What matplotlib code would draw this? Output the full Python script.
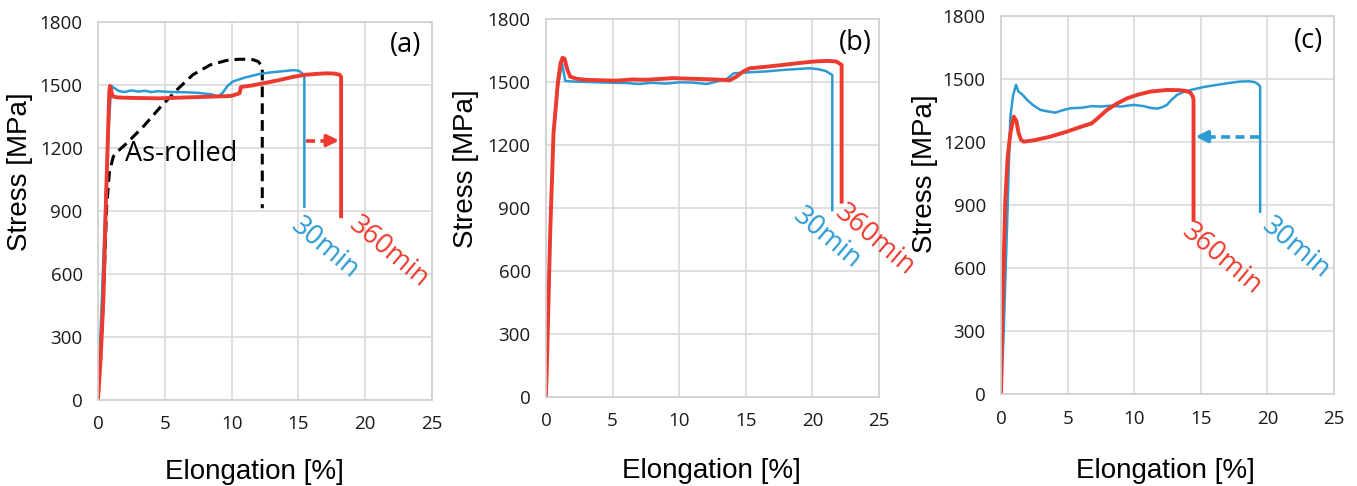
import matplotlib
matplotlib.use('Agg')
import matplotlib.pyplot as plt

RED = '#EC3A2E'
BLUE = '#2B9AD5'

# panel (a)
a_blue_x = [0, 0.3, 0.6, 0.85, 1.0, 1.2, 1.6, 2.0, 2.5, 3.0, 3.5, 4.0, 4.5, 5.5, 6.5, 7.5, 8.5, 9.0, 9.3, 9.7, 10.1, 11.0, 12.1, 13.0, 14.0, 14.6, 15.0, 15.3, 15.45, 15.45]
a_blue_y = [0, 500, 1000, 1350, 1495, 1485, 1470, 1466, 1474, 1468, 1472, 1466, 1470, 1466, 1465, 1462, 1455, 1446, 1460, 1495, 1516, 1535, 1552, 1560, 1566, 1570, 1568, 1555, 1540, 920]
a_red_x = [0, 0.2, 0.4, 0.6, 0.75, 0.85, 0.9, 1.1, 1.5, 2.5, 3.5, 4.5, 5.5, 6.5, 7.5, 8.5, 9.5, 10.0, 10.6, 10.7, 11.5, 12.4, 13.5, 14.6, 15.5, 16.5, 17.1, 17.7, 18.1, 18.2, 18.2]
a_red_y = [0, 200, 476, 952, 1270, 1470, 1495, 1445, 1440, 1438, 1437, 1436, 1438, 1440, 1442, 1444, 1446, 1448, 1460, 1490, 1497, 1508, 1522, 1538, 1548, 1553, 1555, 1554, 1548, 1538, 875]
a_rolled_x = [0, 0.2, 0.4, 0.65, 0.85, 1.02, 1.15, 1.5, 2.15, 3.4, 4.6, 5.9, 7.1, 8.4, 9.6, 10.5, 11.1, 11.6, 12.0, 12.3, 12.3]
a_rolled_y = [0, 200, 476, 920, 1080, 1127, 1159, 1185, 1222, 1302, 1389, 1476, 1548, 1595, 1616, 1622, 1622, 1620, 1611, 1587, 913]

# panel (b)
b_blue_x = [0, 0.07, 0.32, 0.57, 0.9, 1.1, 1.2, 1.3, 1.45, 2.0, 3.0, 4.0, 5.0, 6.0, 7.0, 8.0, 9.0, 10.0, 11.0, 12.1, 13.0, 13.6, 14.1, 15.3, 16.5, 17.8, 19.0, 19.8, 20.5, 21.0, 21.5, 21.5]
b_blue_y = [0, 144, 780, 1256, 1480, 1550, 1590, 1560, 1505, 1502, 1500, 1498, 1496, 1495, 1490, 1496, 1492, 1498, 1497, 1490, 1505, 1515, 1541, 1546, 1550, 1557, 1562, 1565, 1560, 1552, 1533, 890]
b_red_x = [0, 0.07, 0.32, 0.57, 0.9, 1.1, 1.25, 1.4, 1.6, 1.82, 2.3, 3.0, 4.0, 5.3, 6.5, 7.5, 8.5, 9.5, 10.5, 11.5, 12.5, 13.3, 13.8, 14.3, 14.8, 15.3, 16.5, 17.8, 19.0, 20.3, 21.2, 21.8, 22.2, 22.2]
b_red_y = [0, 144, 780, 1256, 1500, 1590, 1615, 1610, 1560, 1525, 1515, 1510, 1508, 1506, 1512, 1510, 1514, 1518, 1516, 1514, 1512, 1510, 1508, 1525, 1549, 1565, 1572, 1581, 1590, 1598, 1600, 1597, 1581, 930]

# panel (c)
c_blue_x = [0, 0.2, 0.45, 0.7, 0.9, 1.12, 1.3, 1.6, 1.95, 2.4, 2.95, 3.5, 4.07, 4.6, 5.2, 6.0, 6.8, 7.45, 8.2, 9.0, 9.95, 10.7, 11.2, 11.7, 12.1, 12.45, 12.8, 13.2, 13.8, 14.45, 15.3, 16.2, 17.1, 17.95, 18.6, 19.0, 19.3, 19.45, 19.45]
c_blue_y = [0, 300, 800, 1320, 1420, 1471, 1440, 1425, 1400, 1375, 1352, 1345, 1339, 1350, 1360, 1362, 1370, 1368, 1372, 1368, 1376, 1370, 1362, 1358, 1365, 1376, 1400, 1423, 1440, 1450, 1462, 1471, 1480, 1487, 1488, 1485, 1475, 1463, 868]
c_red_x = [0, 0.1, 0.32, 0.5, 0.7, 0.95, 1.15, 1.32, 1.5, 1.7, 2.5, 3.7, 4.95, 6.0, 6.8, 7.3, 7.95, 8.7, 9.45, 10.3, 11.2, 12.45, 13.3, 13.8, 14.2, 14.4, 14.45, 14.45]
c_red_y = [0, 400, 924, 1130, 1241, 1320, 1300, 1241, 1210, 1201, 1208, 1225, 1249, 1272, 1288, 1315, 1352, 1382, 1407, 1425, 1439, 1447, 1446, 1443, 1435, 1415, 1400, 829]

x_ticks = [0, 5, 10, 15, 20, 25]
y_ticks = [0, 300, 600, 900, 1200, 1500, 1800]

# arrows: (start x, end x, y)
a_arrow = (15.6, 18.05, 1235)
c_arrow = (19.4, 14.6, 1225)

fig = plt.figure(figsize=(13.57, 4.86), dpi=100)
rects = [[0.0722, 0.177, 0.2461, 0.778],
         [0.4023, 0.1831, 0.2454, 0.778],
         [0.7377, 0.1887, 0.2454, 0.779]]
ylab_pos = [(-0.195, 0.604), (-0.20, 0.605), (-0.188, 0.584)]
xlab_pos = [(0.47, -0.155), (0.498, -0.162), (0.493, -0.168)]
axes = []
for r, yl, xl in zip(rects, ylab_pos, xlab_pos):
    ax = fig.add_axes(r)
    ax.set_xlim(0, 25)
    ax.set_ylim(0, 1800)
    ax.set_xticks(x_ticks)
    ax.set_yticks(y_ticks)
    ax.grid(True, color='#d9d9d9', lw=1.2)
    ax.set_axisbelow(True)
    for s in ax.spines.values():
        s.set_color('#d0d0d0')
        s.set_linewidth(1.2)
    ax.tick_params(length=0, pad=11, labelsize=13.5, labelcolor='#1a1a1a')
    for lab in ax.get_xticklabels() + ax.get_yticklabels():
        lab.set_fontfamily('Open Sans')
    ax.set_xlabel('Elongation [%]', fontsize=20, family='Liberation Sans')
    ax.set_ylabel('Stress [MPa]', fontsize=20, family='Liberation Sans')
    ax.yaxis.set_label_coords(*yl)
    ax.xaxis.set_label_coords(*xl)
    axes.append(ax)

txt = dict(family='Open Sans', fontsize=19.5, rotation=-40, ha='center', va='center',
           rotation_mode='anchor')

# (a)
ax = axes[0]
ax.plot(a_rolled_x, a_rolled_y, color='black', lw=2.2, ls=(0, (3.5, 2)))
ax.plot(a_blue_x, a_blue_y, color=BLUE, lw=1.8)
ax.plot(a_red_x, a_red_y, color=RED, lw=2.8)
ax.plot([a_arrow[0], a_arrow[1] - 0.6], [a_arrow[2]] * 2, color=RED, lw=2.6, ls=(0, (2.5, 1.5)))
ax.annotate('', xy=(a_arrow[1], a_arrow[2]), xytext=(a_arrow[1] - 0.9, a_arrow[2]),
            arrowprops=dict(arrowstyle='-|>,head_length=0.7,head_width=0.35', color=RED, lw=2.6,
                            shrinkA=0, shrinkB=0))
ax.text(6.2, 1171, 'As-rolled', family='Open Sans', fontsize=19.5, ha='center', va='center')
ax.text(23.05, 1690, '(a)', family='Open Sans', fontsize=19.5, ha='center', va='center')
ax.text(17.0, 724, '30min', color=BLUE, **txt)
ax.text(21.8, 702, '360min', color=RED, **txt)

# (b)
ax = axes[1]
ax.plot(b_blue_x, b_blue_y, color=BLUE, lw=1.8)
ax.plot(b_red_x, b_red_y, color=RED, lw=2.8)
ax.text(23.2, 1683, '(b)', family='Open Sans', fontsize=19.5, ha='center', va='center')
ax.text(21.1, 756, '30min', color=BLUE, **txt)
ax.text(24.7, 748, '360min', color=RED, **txt)

# (c)
ax = axes[2]
ax.plot(c_blue_x, c_blue_y, color=BLUE, lw=1.8)
ax.plot(c_red_x, c_red_y, color=RED, lw=2.8)
ax.plot([c_arrow[0], c_arrow[1] + 0.6], [c_arrow[2]] * 2, color=BLUE, lw=2.6, ls=(0, (2.5, 1.5)))
ax.annotate('', xy=(c_arrow[1], c_arrow[2]), xytext=(c_arrow[1] + 0.9, c_arrow[2]),
            arrowprops=dict(arrowstyle='-|>,head_length=0.7,head_width=0.35', color=BLUE, lw=2.6,
                            shrinkA=0, shrinkB=0))
ax.text(23.05, 1682, '(c)', family='Open Sans', fontsize=19.5, ha='center', va='center')
ax.text(16.6, 641, '360min', color=RED, **txt)
ax.text(22.1, 693, '30min', color=BLUE, **txt)

fig.savefig('out.png', dpi=100)
